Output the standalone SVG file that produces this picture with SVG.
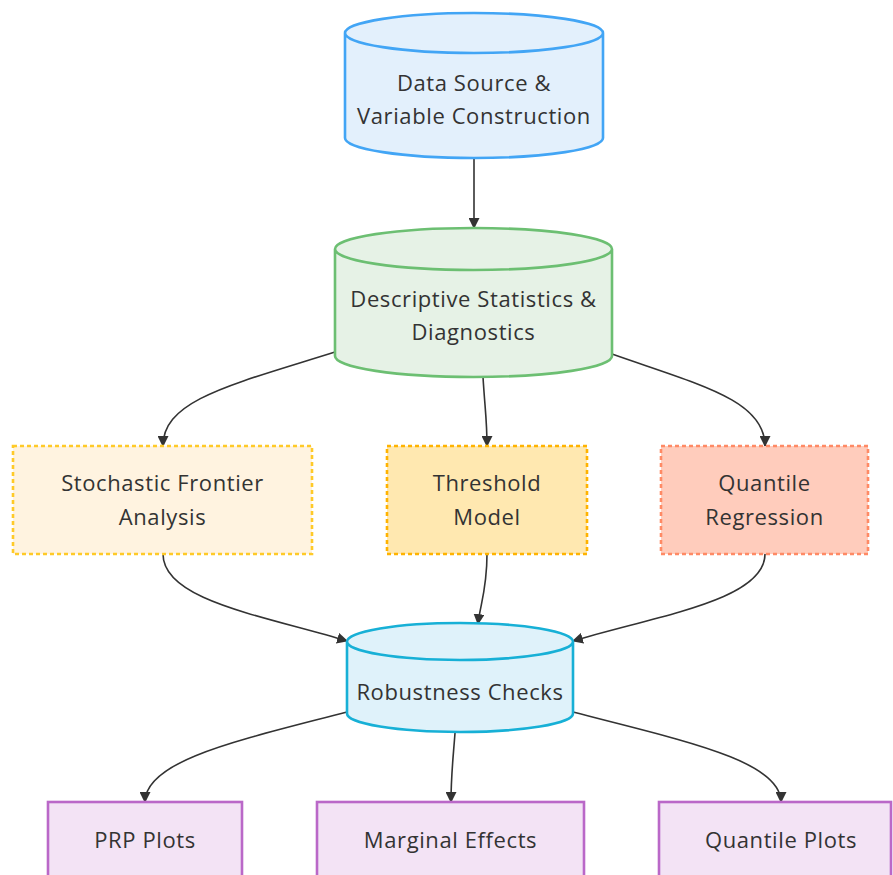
<svg xmlns="http://www.w3.org/2000/svg" width="893" height="875" viewBox="0 0 893 875">
<defs>
<marker id="arr" viewBox="0 0 10 10" refX="9" refY="5" markerWidth="11" markerHeight="11" markerUnits="userSpaceOnUse" orient="auto">
<path d="M0,0 L10,5 L0,10 z" fill="#333"/>
</marker>
<style>
.t{font-family:"Open Sans","DejaVu Sans",sans-serif;font-size:22px;letter-spacing:0.6px;fill:#333;text-anchor:middle;dominant-baseline:central}
.e{fill:none;stroke:#333;stroke-width:1.6;marker-end:url(#arr)}
.n{stroke-width:2.6}
.d{stroke-dasharray:4 3}
</style>
</defs>
<rect width="893" height="875" fill="#fff"/>
<g id="edges">
<path class="e" d="M474,158 L474,228"/>
<path class="e" d="M335,352 C230,385 163,400 163,446"/>
<path class="e" d="M483,377 C485,410 487,420 487,446"/>
<path class="e" d="M612,354 C700,385 765,400 765,446"/>
<path class="e" d="M163,554 C163,600 260,615 347,641"/>
<path class="e" d="M487,554 C487,590 480,605 478,624"/>
<path class="e" d="M765,554 C765,600 660,615 573,641"/>
<path class="e" d="M347,712 C240,740 145,760 145,802"/>
<path class="e" d="M455,733 C453,760 451,775 451,802"/>
<path class="e" d="M573,712 C680,740 781,760 781,802"/>
</g>
<g id="dataSource">
<path class="n" fill="#e3f0fc" stroke="#42a5f5" d="M345,33 a129,20 0 0 0 258,0 a129,20 0 0 0 -258,0 l0,105 a129,20 0 0 0 258,0 l0,-105"/>
<text class="t" x="474" y="82">Data Source &amp;</text>
<text class="t" x="474" y="115">Variable Construction</text>
</g>
<g id="descriptive">
<path class="n" fill="#e6f2e6" stroke="#6cbf72" d="M335,249 a138.5,21 0 0 0 277,0 a138.5,21 0 0 0 -277,0 l0,107 a138.5,21 0 0 0 277,0 l0,-107"/>
<text class="t" x="473.5" y="298">Descriptive Statistics &amp;</text>
<text class="t" x="473.5" y="331">Diagnostics</text>
</g>
<g id="sfa">
<rect class="n d" x="13" y="446" width="299" height="108" fill="#fff3e0" stroke="#ffca28"/>
<text class="t" x="162.5" y="482">Stochastic Frontier</text>
<text class="t" x="162.5" y="516">Analysis</text>
</g>
<g id="threshold">
<rect class="n d" x="387" y="446" width="200" height="108" fill="#ffe8b0" stroke="#ffb300"/>
<text class="t" x="487" y="482">Threshold</text>
<text class="t" x="487" y="516">Model</text>
</g>
<g id="quantileReg">
<rect class="n d" x="661" y="446" width="207" height="108" fill="#ffccbc" stroke="#ff8a65"/>
<text class="t" x="764.5" y="482">Quantile</text>
<text class="t" x="764.5" y="516">Regression</text>
</g>
<g id="robustness">
<path class="n" fill="#dff2fa" stroke="#17b0d6" d="M347,641.5 a113,18.5 0 0 0 226,0 a113,18.5 0 0 0 -226,0 l0,72 a113,18.5 0 0 0 226,0 l0,-72"/>
<text class="t" x="460" y="691">Robustness Checks</text>
</g>
<g id="prp">
<rect class="n" x="48" y="802" width="194" height="76" fill="#f3e3f5" stroke="#ba68c8"/>
<text class="t" x="145" y="839">PRP Plots</text>
</g>
<g id="marginal">
<rect class="n" x="317" y="802" width="267" height="76" fill="#f3e3f5" stroke="#ba68c8"/>
<text class="t" x="450.5" y="839">Marginal Effects</text>
</g>
<g id="quantilePlots">
<rect class="n" x="659" y="802" width="232" height="76" fill="#f3e3f5" stroke="#ba68c8"/>
<text class="t" x="781" y="839">Quantile Plots</text>
</g>
</svg>
